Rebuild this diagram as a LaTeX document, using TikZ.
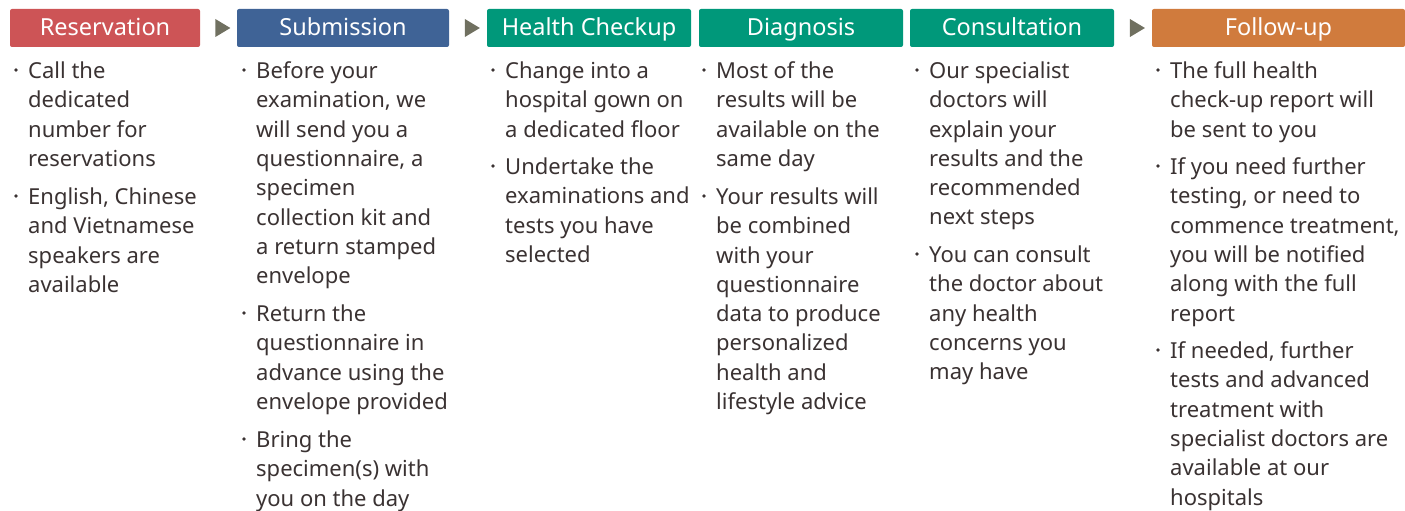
\documentclass[tikz,border=0pt]{standalone}
\usepackage{fontspec}
\setmainfont{Noto Sans}
\usetikzlibrary{shapes.geometric}

\definecolor{redhead}{RGB}{205,84,86}
\definecolor{bluehead}{RGB}{63,99,150}
\definecolor{greenhead}{RGB}{0,152,122}
\definecolor{orangehead}{RGB}{208,123,61}
\definecolor{arrowgray}{RGB}{112,112,96}
\definecolor{txtgray}{RGB}{58,50,50}

\tikzset{
  head/.style={rectangle, rounded corners=2pt, text=white, minimum height=38pt, inner sep=0pt,
    text height=21pt, text depth=5pt, font=\fontsize{23.5}{26}\selectfont},
  item/.style={anchor=north west, yshift=16.5pt, align=left, inner sep=0pt, text=txtgray,
    font=\fontsize{22}{29.3}\selectfont, execute at begin node=\strut},
  tri/.style={isosceles triangle, isosceles triangle stretches, fill=arrowgray,
    minimum width=18pt, minimum height=15pt, inner sep=0pt},
  bul/.style={fill=txtgray}
}

\begin{document}
\begin{tikzpicture}[x=1pt,y=-1pt]
\useasboundingbox (0,0) rectangle (1405,511);

% headers
\node [head, fill=redhead, minimum width=190pt] (res) at (105,28) {Reservation};
\node [head, fill=bluehead, minimum width=212pt] (sub) at (343,28) {Submission};
\node [head, fill=greenhead, minimum width=204pt] (chk) at (589,28) {Health Checkup};
\node [head, fill=greenhead, minimum width=204pt] (dia) at (801,28) {Diagnosis};
\node [head, fill=greenhead, minimum width=204pt] (con) at (1012,28) {Consultation};
\node [head, fill=orangehead, minimum width=253pt] (fol) at (1278.5,28) {Follow-up};

% arrows between steps
\path (res.east) -- (sub.west) node [tri, midway, xshift=2pt] (t1) {};
\path (sub.east) -- (chk.west) node [tri, midway, xshift=2pt] (t2) {};
\path (con.east) -- (fol.west) node [tri, midway, xshift=2pt] (t3) {};

% Reservation
\node [item] (r1) at (28,78) {Call the\\dedicated\\number for\\reservations};
\node [item] (r2) at (28,204) {English, Chinese\\and Vietnamese\\speakers are\\available};
\fill [bul] (r1.north west) ++(-12,8.5) circle [radius=1.8];
\fill [bul] (r2.north west) ++(-12,8.5) circle [radius=1.8];

% Submission
\node [item] (s1) at (256,78) {Before your\\examination, we\\will send you a\\questionnaire, a\\specimen\\collection kit and\\a return stamped\\envelope};
\node [item] (s2) at (256,321) {Return the\\questionnaire in\\advance using the\\envelope provided};
\node [item] (s3) at (256,447) {Bring the\\specimen(s) with\\you on the day};
\fill [bul] (s1.north west) ++(-12,8.5) circle [radius=1.8];
\fill [bul] (s2.north west) ++(-12,8.5) circle [radius=1.8];
\fill [bul] (s3.north west) ++(-12,8.5) circle [radius=1.8];

% Health Checkup
\node [item] (h1) at (505,78) {Change into a\\hospital gown on\\a dedicated floor};
\node [item] (h2) at (505,174) {Undertake the\\examinations and\\tests you have\\selected};
\fill [bul] (h1.north west) ++(-12,8.5) circle [radius=1.8];
\fill [bul] (h2.north west) ++(-12,8.5) circle [radius=1.8];

% Diagnosis
\node [item] (d1) at (716,78) {Most of the\\results will be\\available on the\\same day};
\node [item] (d2) at (716,204) {Your results will\\be combined\\with your\\questionnaire\\data to produce\\personalized\\health and\\lifestyle advice};
\fill [bul] (d1.north west) ++(-12,8.5) circle [radius=1.8];
\fill [bul] (d2.north west) ++(-12,8.5) circle [radius=1.8];

% Consultation
\node [item] (c1) at (929,78) {Our specialist\\doctors will\\explain your\\results and the\\recommended\\next steps};
\node [item] (c2) at (929,262) {You can consult\\the doctor about\\any health\\concerns you\\may have};
\fill [bul] (c1.north west) ++(-12,8.5) circle [radius=1.8];
\fill [bul] (c2.north west) ++(-12,8.5) circle [radius=1.8];

% Follow-up
\node [item] (f1) at (1170,78) {The full health\\check-up report will\\be sent to you};
\node [item] (f2) at (1170,174) {If you need further\\testing, or need to\\commence treatment,\\you will be notified\\along with the full\\report};
\node [item] (f3) at (1170,358) {If needed, further\\tests and advanced\\treatment with\\specialist doctors are\\available at our\\hospitals};
\fill [bul] (f1.north west) ++(-12,8.5) circle [radius=1.8];
\fill [bul] (f2.north west) ++(-12,8.5) circle [radius=1.8];
\fill [bul] (f3.north west) ++(-12,8.5) circle [radius=1.8];

\end{tikzpicture}
\end{document}
